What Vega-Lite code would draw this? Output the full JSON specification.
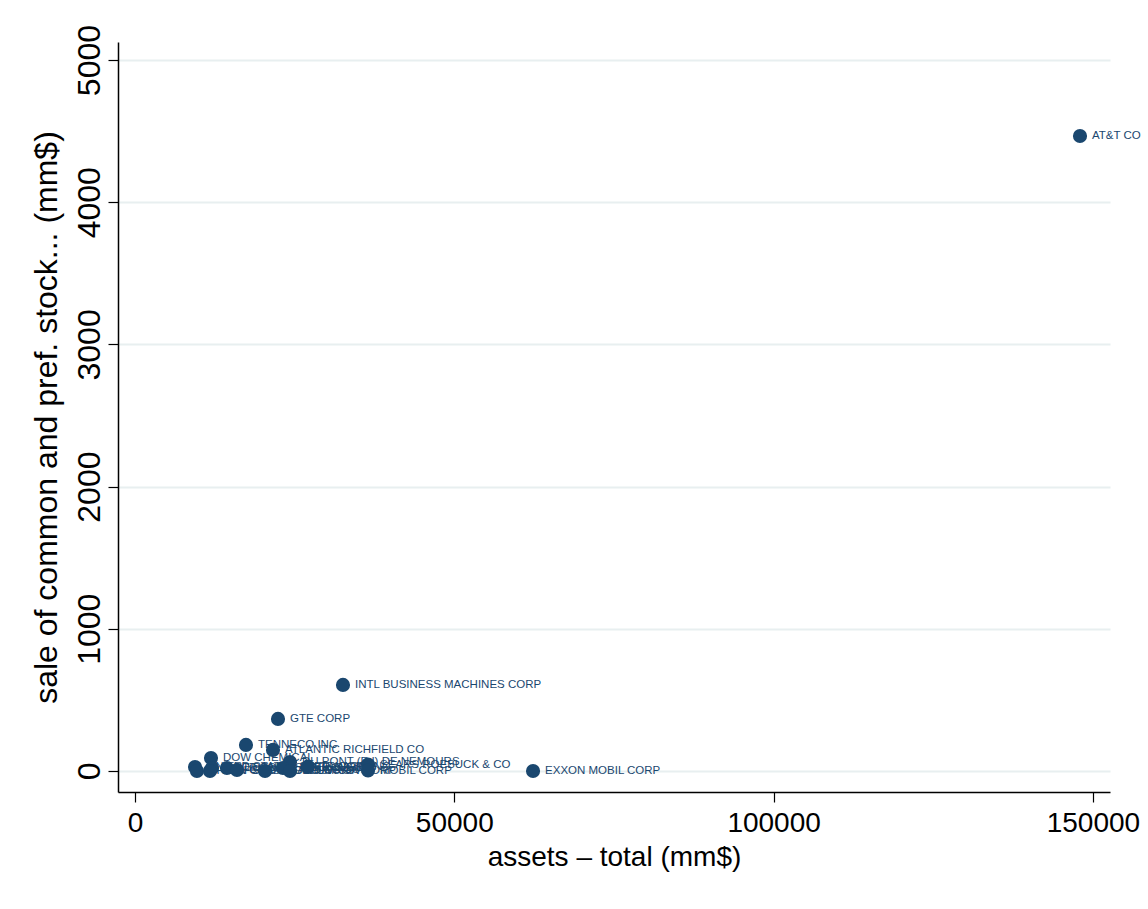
{
  "$schema": "https://vega.github.io/schema/vega-lite/v6.json",
  "width": 992,
  "height": 750,
  "autosize": {"type": "none"},
  "padding": {"left": 118, "top": 42, "right": 38, "bottom": 117},
  "background": "white",
  "config": {
    "view": {"stroke": null},
    "font": "Liberation Sans",
    "axis": {
      "domainColor": "black",
      "domainWidth": 1.5,
      "tickColor": "black",
      "tickWidth": 1.2,
      "tickSize": 10,
      "labelColor": "black",
      "titleColor": "black",
      "labelFont": "Liberation Sans",
      "titleFont": "Liberation Sans",
      "labelFontSize": 28,
      "titleFontSize": 28,
      "titleFontWeight": "normal",
      "gridColor": "#e8eff0",
      "gridWidth": 2
    }
  },
  "data": {
    "values": [
      {"company": "AT&T CO", "assets": 147980, "sale": 4466},
      {"company": "INTL BUSINESS MACHINES CORP", "assets": 32570, "sale": 605},
      {"company": "GTE CORP", "assets": 22393, "sale": 366},
      {"company": "TENNECO INC", "assets": 17380, "sale": 183},
      {"company": "ATLANTIC RICHFIELD CO", "assets": 21610, "sale": 148},
      {"company": "DOW CHEMICAL", "assets": 11900, "sale": 91},
      {"company": "DU PONT (E I) DE NEMOURS", "assets": 24270, "sale": 63},
      {"company": "TEXACO INC", "assets": 27090, "sale": 30},
      {"company": "SEARS ROEBUCK & CO", "assets": 36490, "sale": 45},
      {"company": "MOBIL CORP", "assets": 36490, "sale": 3},
      {"company": "EXXON MOBIL CORP", "assets": 62330, "sale": 0},
      {"company": "UNITED STATES STEEL CORP", "assets": 9400, "sale": 28},
      {"company": "PHILLIPS PETROLEUM CO", "assets": 9700, "sale": 0},
      {"company": "OCCIDENTAL PETROLEUM", "assets": 12060, "sale": 21},
      {"company": "SUN CO INC", "assets": 11740, "sale": 0},
      {"company": "ITT CORP", "assets": 14400, "sale": 21},
      {"company": "UNION CARBIDE CORP", "assets": 15970, "sale": 7},
      {"company": "AMOCO CORP", "assets": 20360, "sale": 0},
      {"company": "SHELL OIL CO", "assets": 23170, "sale": 21},
      {"company": "CHEVRON CORP", "assets": 24270, "sale": 0}
    ]
  },
  "encoding": {
    "x": {
      "field": "assets",
      "type": "quantitative",
      "title": "assets – total (mm$)",
      "scale": {"domain": [-2662, 152678], "nice": false, "zero": false},
      "axis": {
        "values": [0, 50000, 100000, 150000],
        "format": "d",
        "grid": false,
        "labelPadding": 7,
        "titlePadding": 6,
        "labelFlush": false
      }
    },
    "y": {
      "field": "sale",
      "type": "quantitative",
      "title": "sale of common and pref. stock... (mm$)",
      "scale": {"domain": [-148, 5127], "nice": false, "zero": false},
      "axis": {
        "values": [0, 1000, 2000, 3000, 4000, 5000],
        "format": "d",
        "grid": true,
        "labelAngle": 270,
        "labelAlign": "center",
        "labelBaseline": "alphabetic",
        "labelPadding": 9,
        "labelFontSize": 32,
        "titleFontSize": 32,
        "titlePadding": 10,
        "labelFlush": false
      }
    }
  },
  "layer": [
    {
      "mark": {"type": "point", "filled": true, "size": 200, "color": "#1a476f", "opacity": 1}
    },
    {
      "mark": {"type": "text", "align": "left", "baseline": "middle", "dx": 12, "fontSize": 11.5, "color": "#1a476f", "font": "Liberation Sans"},
      "encoding": {"text": {"field": "company"}}
    }
  ]
}
